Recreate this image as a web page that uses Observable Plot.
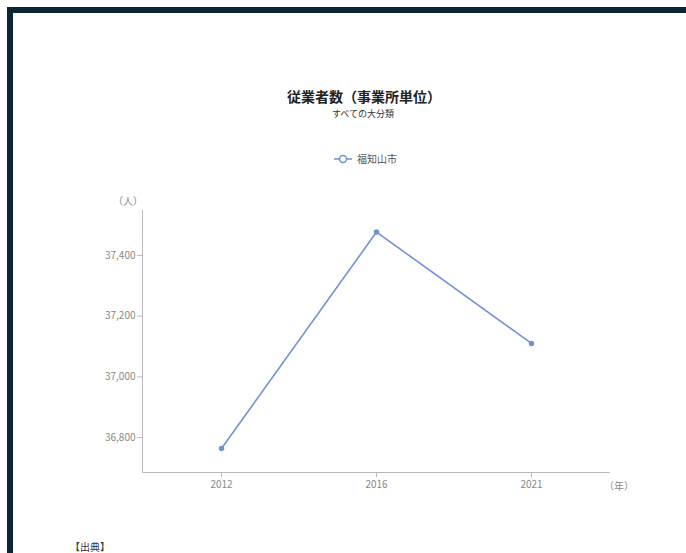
<!DOCTYPE html>
<html><head><meta charset="utf-8">
<script src="https://cdn.jsdelivr.net/npm/d3@7"></script>
<script src="https://cdn.jsdelivr.net/npm/@observablehq/plot@0.6"></script>
<style>
html,body{margin:0;padding:0;background:#fff;overflow:hidden;}
body{width:686px;height:553px;position:relative;font-family:"Noto Sans CJK JP","Noto Sans",sans-serif;}
#frame{position:absolute;left:7px;top:7px;width:700px;height:600px;border-top:6px solid #0a2535;border-left:6px solid #0a2535;}
#title{position:absolute;left:3px;width:722px;top:86px;text-align:center;font-size:14px;font-weight:bold;color:#222;}
#subtitle{position:absolute;left:2px;width:722px;top:107px;text-align:center;font-size:9px;color:#333;}
#legend{position:absolute;left:334px;top:151px;font-size:10px;color:#555;display:flex;align-items:center;}
#legend svg{margin-right:5px;}
#plot{position:absolute;left:0;top:190px;}
#yunit{position:absolute;left:113px;top:193px;font-size:10px;color:#888;}
#xunit{position:absolute;left:604px;top:478px;font-size:10px;color:#888;}
#src{position:absolute;left:70px;top:539px;font-size:10px;color:#333;}
</style></head>
<body>
<div id="frame"></div>
<div id="title">従業者数（事業所単位）</div>
<div id="subtitle">すべての大分類</div>
<div id="legend"><svg width="18" height="10"><line x1="0" y1="5" x2="18" y2="5" stroke="#7590d6" stroke-width="1.5"/><circle cx="9" cy="5" r="3.5" fill="#fff" stroke="#7590d6" stroke-width="1.5"/></svg><span>福知山市</span></div>
<div id="yunit">（人）</div>
<div id="xunit">（年）</div>
<div id="src">【出典】</div>
<div id="plot"></div>
<script>
const years = ["2012", "2016", "2021"];
const employees = [36764, 37477, 37110];
const seriesName = "福知山市";
const data = years.map((y, i) => ({year: y, value: employees[i], series: seriesName}));
const color = "#7590d6";
const chart = Plot.plot({
  width: 686,
  height: 310,
  marginLeft: 142,
  marginRight: 77,
  marginTop: 20,
  marginBottom: 28,
  style: {fontFamily: '"Noto Sans CJK JP","Noto Sans",sans-serif', fontSize: "10px", color: "#888", background: "transparent"},
  x: {type: "point", domain: years, padding: 0.5, label: null},
  y: {domain: [36685, 37548], label: null},
  marks: [
    Plot.frame({anchor: "left", stroke: "#b8b8c0"}),
    Plot.frame({anchor: "bottom", stroke: "#b8b8c0"}),
    Plot.axisX({tickSize: 5, stroke: "#b8b8c0", color: "#888", tickPadding: 3}),
    Plot.axisY({ticks: [36800, 37000, 37200, 37400], tickFormat: d3.format(","), tickSize: 5, stroke: "#b8b8c0", color: "#888", tickPadding: 2}),
    Plot.line(data, {x: "year", y: "value", stroke: color, strokeWidth: 1.6}),
    Plot.dot(data, {x: "year", y: "value", r: 2, fill: color, stroke: color})
  ]
});
document.getElementById("plot").appendChild(chart);
</script>
</body></html>
